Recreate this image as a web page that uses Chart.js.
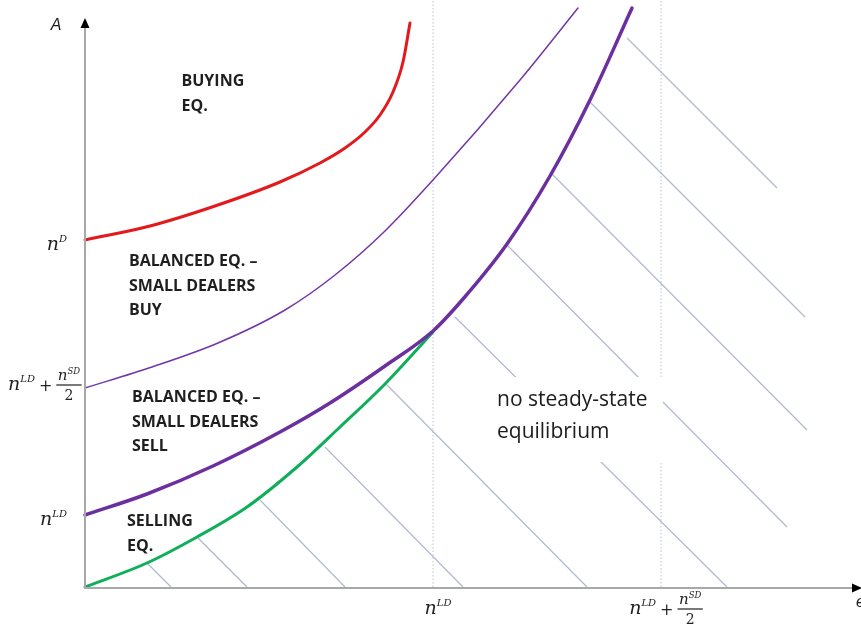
<!DOCTYPE html>
<html>
<head>
<meta charset="utf-8">
<script src="https://cdn.jsdelivr.net/npm/chart.js@4/dist/chart.umd.min.js"></script>
<style>
  html, body { margin: 0; padding: 0; background: #ffffff; }
  #wrap { width: 861px; height: 637px; }
</style>
</head>
<body>
<div id="wrap"><canvas id="c" width="861" height="637"></canvas></div>
<script>
// Equilibrium regions in the (e, A) plane.

// Upper edge of the buying equilibrium (red)
const buyingX = [0, 0.65, 1.30, 1.95, 2.35, 2.60, 2.80, 2.95, 3.08, 3.18, 3.25];
const buyingY = [3.47, 3.61, 3.81, 4.05, 4.24, 4.39, 4.55, 4.72, 4.95, 5.25, 5.64];

// Boundary between "small dealers buy" and "small dealers sell" (thin purple)
const splitX = [0, 0.67, 1.33, 2.00, 2.50, 3.00, 3.48, 4.35, 4.93];
const splitY = [1.99, 2.20, 2.44, 2.77, 3.12, 3.56, 4.07, 5.07, 5.79];

// Existence frontier of the balanced equilibria (thick purple)
const frontierX = [0, 0.62, 1.28, 1.95, 2.45, 3.00, 3.48, 3.78, 4.22, 4.65, 5.05, 5.47];
const frontierY = [0.72, 0.93, 1.21, 1.55, 1.84, 2.21, 2.56, 2.88, 3.43, 4.11, 4.87, 5.79];

// Upper edge of the selling equilibrium (green)
const sellingX = [0, 0.62, 1.12, 1.62, 2.12, 2.55, 3.00, 3.48];
const sellingY = [0, 0.24, 0.50, 0.80, 1.20, 1.60, 2.03, 2.55];

// Hatching of the region without a steady state
const hatchFromX = [5.42, 5.05, 4.65, 4.22, 3.70, 3.00, 2.40, 1.75, 1.13, 0.62];
const hatchFromY = [5.49, 4.85, 4.15, 3.42, 2.70, 2.04, 1.40, 0.87, 0.49, 0.24];
const hatchToX   = [6.92, 7.20, 7.22, 7.02, 6.42, 5.02, 3.78, 2.60, 1.62, 0.86];
const hatchToY   = [3.99, 2.70, 1.57, 0.60, 0, 0, 0, 0, 0, 0];

// Reference levels
const yTickValues = [3.47, 1.99, 0.72];
const yTickLabels = ['n^D', 'n^LD + n^SD/2', 'n^LD'];
const xTickValues = [3.48, 5.76];
const xTickLabels = ['n^LD', 'n^LD + n^SD/2'];

// Region names and where they sit (data units: left edge, first baseline)
const regionLines = [
  ['BUYING', 'EQ.'],
  ['BALANCED EQ. \u2013', 'SMALL DEALERS', 'BUY'],
  ['BALANCED EQ. \u2013', 'SMALL DEALERS', 'SELL'],
  ['SELLING', 'EQ.']
];
const regionAnchorX = [0.965, 0.44, 0.47, 0.42];
const regionAnchorY = [5.01, 3.21, 1.85, 0.61];

const noSteadyLines = ['no steady-state', 'equilibrium'];
const noSteadyAnchor = [4.12, 1.81];

const X_MAX = 7.76, Y_MAX = 5.87, Y_ARROW = 5.69;

const toPoints = (xs, ys) => xs.map((v, i) => ({ x: v, y: ys[i] }));

const curve = (pts, color, width) => ({
  data: pts, borderColor: color, borderWidth: width, showLine: true,
  pointRadius: 0, cubicInterpolationMode: 'monotone', fill: false, order: 0,
  borderCapStyle: 'round', clip: false
});

const datasets = [
  curve(toPoints(frontierX, frontierY), '#6b2fa0', 3.5),
  curve(toPoints(sellingX, sellingY), '#0fae5a', 3),
  curve(toPoints(splitX, splitY), '#7236a6', 1.5),
  curve(toPoints(buyingX, buyingY), '#e3191c', 3)
];

hatchFromX.forEach((v, i) => {
  datasets.push({
    data: [{ x: v, y: hatchFromY[i] }, { x: hatchToX[i], y: hatchToY[i] }],
    borderColor: '#b0b9cc', borderWidth: 1.2, showLine: true, pointRadius: 0,
    tension: 0, order: 5, clip: false
  });
});

xTickValues.forEach(v => {
  datasets.push({
    data: [{ x: v, y: 0 }, { x: v, y: Y_MAX }],
    borderColor: '#bcc3d2', borderWidth: 1, borderDash: [1.5, 2], showLine: true,
    pointRadius: 0, tension: 0, order: 6, clip: false
  });
});

// ---- math label typesetting ----
const MATH_FONT = '"DejaVu Serif", "Liberation Serif", serif';
const parseTerm = s => { const [b, p] = s.split('^'); return { base: b, sup: p || '' }; };

function termWidth(ctx, t, size, supSize) {
  ctx.font = `italic ${size}px ${MATH_FONT}`;
  const wb = ctx.measureText(t.base).width;
  ctx.font = `italic ${supSize}px ${MATH_FONT}`;
  const ws = t.sup ? ctx.measureText(t.sup).width : 0;
  return wb + ws;
}

function drawTerm(ctx, t, x, baseline, size, supSize, raise) {
  ctx.font = `italic ${size}px ${MATH_FONT}`;
  ctx.fillText(t.base, x, baseline);
  const wb = ctx.measureText(t.base).width;
  if (t.sup) {
    ctx.font = `italic ${supSize}px ${MATH_FONT}`;
    ctx.fillText(t.sup, x + wb, baseline - raise);
  }
}

function mathLabel(ctx, label) {
  const S = 19, SUP = 10, RAISE = 8;
  const FS = 15, FSUP = 8.5, FRAISE = 6, DEN = 14;
  const segs = [];
  let w = 0;
  label.split(' + ').forEach((part, i) => {
    if (i > 0) {
      ctx.font = `16px ${MATH_FONT}`;
      const pw = ctx.measureText('+').width;
      segs.push({ kind: 'plus', x: w + 4 });
      w += pw + 8;
    }
    if (part.includes('/')) {
      const [num, den] = part.split('/');
      const t = parseTerm(num);
      const nw = termWidth(ctx, t, FS, FSUP);
      ctx.font = `${DEN}px ${MATH_FONT}`;
      const dw = ctx.measureText(den).width;
      const bw = Math.max(nw, dw) + 3;
      segs.push({ kind: 'frac', x: w, bw, t, den, nw, dw });
      w += bw;
    } else {
      const t = parseTerm(part);
      segs.push({ kind: 'term', x: w, t });
      w += termWidth(ctx, t, S, SUP);
    }
  });
  return {
    width: w,
    draw(x, axis) {
      ctx.fillStyle = '#222222';
      ctx.textAlign = 'left';
      ctx.textBaseline = 'alphabetic';
      segs.forEach(s => {
        if (s.kind === 'term') {
          drawTerm(ctx, s.t, x + s.x, axis + 5, S, SUP, RAISE);
        } else if (s.kind === 'plus') {
          ctx.font = `16px ${MATH_FONT}`;
          ctx.fillText('+', x + s.x, axis + 6);
        } else {
          ctx.fillRect(x + s.x, axis - 0.6, s.bw, 1.2);
          drawTerm(ctx, s.t, x + s.x + (s.bw - s.nw) / 2, axis - 5, FS, FSUP, FRAISE);
          ctx.font = `${DEN}px ${MATH_FONT}`;
          ctx.fillText(s.den, x + s.x + (s.bw - s.dw) / 2, axis + 15);
        }
      });
    }
  };
}

const decor = {
  id: 'decor',
  afterDatasetsDraw(chart) {
    const { ctx, scales: { x, y } } = chart;
    const px = v => x.getPixelForValue(v);
    const py = v => y.getPixelForValue(v);
    const x0 = px(0), y0 = py(0);
    ctx.save();

    // caption panel for the hatched region
    const cx = px(noSteadyAnchor[0]), cy = py(noSteadyAnchor[1]);
    ctx.fillStyle = '#ffffff';
    ctx.fillRect(cx - 7, cy - 29, 173, 85);
    ctx.fillStyle = '#1c1c1c';
    ctx.font = '21px "Open Sans", sans-serif';
    ctx.textAlign = 'left';
    ctx.textBaseline = 'alphabetic';
    noSteadyLines.forEach((t, i) => ctx.fillText(t, cx, cy + i * 32));

    // axes with arrowheads
    ctx.strokeStyle = '#a8a8a8';
    ctx.lineWidth = 2;
    const yTip = py(Y_ARROW), xTip = px(X_MAX) + 1;
    ctx.beginPath();
    ctx.moveTo(x0, y0 + 1); ctx.lineTo(x0, yTip + 9);
    ctx.moveTo(x0 - 1, y0 + 1); ctx.lineTo(xTip - 9, y0 + 1);
    ctx.stroke();
    ctx.fillStyle = '#000000';
    ctx.beginPath();
    ctx.moveTo(x0, yTip); ctx.lineTo(x0 - 4.5, yTip + 10); ctx.lineTo(x0 + 4.5, yTip + 10);
    ctx.closePath(); ctx.fill();
    ctx.beginPath();
    ctx.moveTo(xTip, y0 + 1); ctx.lineTo(xTip - 10, y0 - 3.5); ctx.lineTo(xTip - 10, y0 + 5.5);
    ctx.closePath(); ctx.fill();

    // axis names
    ctx.fillStyle = '#1c1c1c';
    ctx.font = 'italic 16px "Liberation Sans", sans-serif';
    ctx.textAlign = 'center';
    ctx.fillText('A', x0 - 29, yTip + 12);
    ctx.textAlign = 'left';
    ctx.fillText('e', xTip - 6, y0 + 20);

    // region names
    ctx.font = 'bold 16px "Open Sans", sans-serif';
    ctx.fillStyle = '#1f1f1f';
    regionLines.forEach((lines, i) => {
      const lx = px(regionAnchorX[i]), ly = py(regionAnchorY[i]);
      lines.forEach((t, j) => ctx.fillText(t, lx, ly + j * 24.5));
    });

    // level labels on the vertical axis
    yTickValues.forEach((v, i) => {
      const m = mathLabel(ctx, yTickLabels[i]);
      const isFrac = yTickLabels[i].includes('/');
      const lx = Math.max(8, x0 - 18 - m.width);
      m.draw(lx, py(v) + (isFrac ? -3 : 5));
    });

    // level labels on the horizontal axis
    xTickValues.forEach((v, i) => {
      const m = mathLabel(ctx, xTickLabels[i]);
      m.draw(px(v) + 5 - m.width / 2, y0 + 22);
    });

    ctx.restore();
  }
};

new Chart(document.getElementById('c'), {
  type: 'scatter',
  data: { datasets },
  options: {
    responsive: false,
    animation: false,
    events: [],
    layout: { padding: { left: 85, top: 0, right: 0, bottom: 50 } },
    plugins: { legend: { display: false }, tooltip: { enabled: false } },
    scales: {
      x: { type: 'linear', min: 0, max: X_MAX, display: false },
      y: { type: 'linear', min: 0, max: Y_MAX, display: false }
    }
  },
  plugins: [decor]
});
</script>
</body>
</html>
